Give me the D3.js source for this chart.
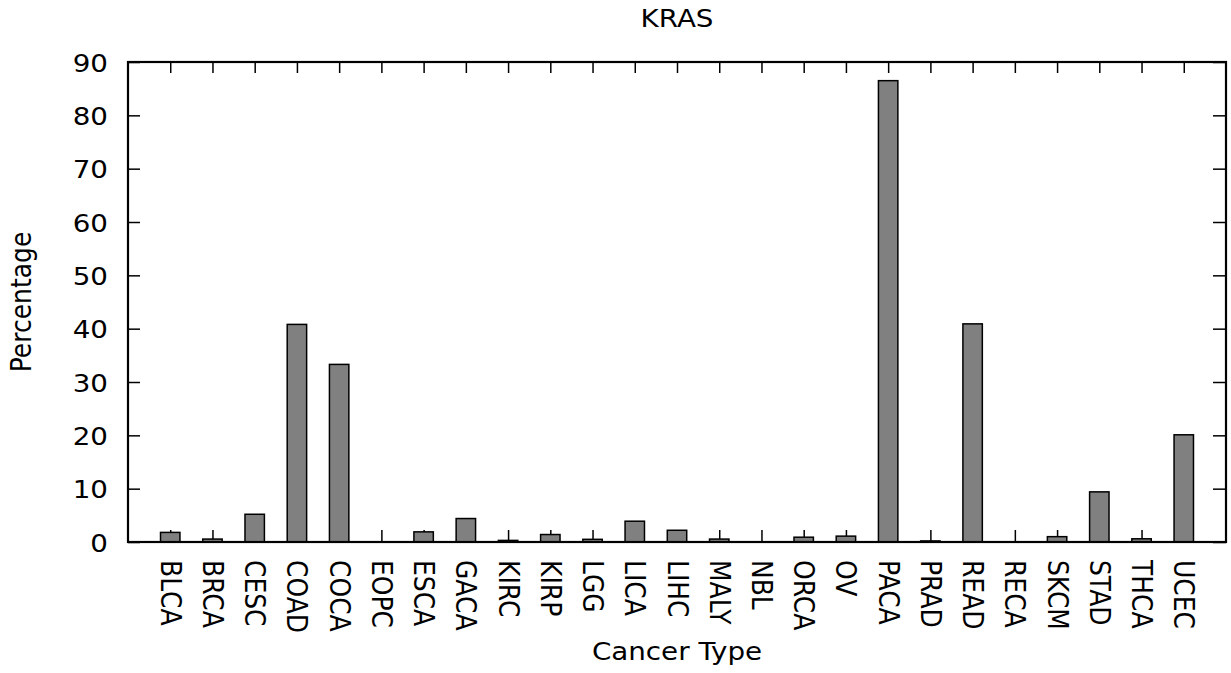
<!DOCTYPE html>
<html>
<head>
<meta charset="utf-8">
<script src="https://cdn.jsdelivr.net/npm/d3@7/dist/d3.min.js"></script>
<style>
  html, body { margin: 0; padding: 0; background: #fff; }
  svg text { font-family: "DejaVu Sans", sans-serif; fill: #000; }
</style>
</head>
<body>
<svg id="chart" width="1231" height="673"></svg>
<script>
const categories = ["BLCA","BRCA","CESC","COAD","COCA","EOPC","ESCA","GACA","KIRC","KIRP","LGG","LICA","LIHC","MALY","NBL","ORCA","OV","PACA","PRAD","READ","RECA","SKCM","STAD","THCA","UCEC"];
const values = [1.8,0.55,5.2,40.8,33.3,0,1.9,4.4,0.3,1.4,0.5,3.9,2.2,0.55,0,0.9,1.1,86.5,0.2,40.9,0,1.0,9.4,0.6,20.1];
const yTicks = [0,10,20,30,40,50,60,70,80,90];
const title = "KRAS";
const xTitle = "Cancer Type";
const yTitle = "Percentage";

const svg = d3.select("#chart");
const L = 128, R = 1226, T = 62, B = 542;
const fs = 25;
const sx = 1.11;

const x = d3.scalePoint().domain(categories).range([L, R]).padding(1);
const y = d3.scaleLinear().domain([0, 90]).range([B, T]);
const bw = x.step() * 0.46;

function styleAxis(g) {
  g.select(".domain").remove();
  g.selectAll(".tick line").attr("stroke", "#000").attr("stroke-width", 1.5);
  g.selectAll("text").style("font-size", fs + "px").style("font-family", '"DejaVu Sans", sans-serif').attr("fill", "#000");
}

// bottom ticks and labels
const gx = svg.append("g").attr("transform", `translate(0,${B})`)
  .call(d3.axisBottom(x).tickSize(-12).tickPadding(0));
styleAxis(gx);
gx.selectAll("text")
  .attr("x", 0).attr("y", 0)
  .attr("transform", `translate(0,18) scale(${sx},1) rotate(90)`)
  .attr("text-anchor", "start")
  .attr("dy", "0.36em");

// top ticks
const gxt = svg.append("g").attr("transform", `translate(0,${T})`)
  .call(d3.axisTop(x).tickSize(-11).tickFormat(""));
styleAxis(gxt);

// left axis
const gy = svg.append("g").attr("transform", `translate(${L},0)`)
  .call(d3.axisLeft(y).tickValues(yTicks).tickSize(-12).tickPadding(20));
styleAxis(gy);
gy.selectAll("text").attr("x", 0).attr("dy", "0.36em")
  .attr("transform", `translate(-20,0) scale(${sx},1)`);

// right ticks
const gyr = svg.append("g").attr("transform", `translate(${R},0)`)
  .call(d3.axisRight(y).tickValues(yTicks).tickSize(-13).tickFormat(""));
styleAxis(gyr);

// bars
svg.append("g").selectAll("rect").data(categories).join("rect")
  .attr("x", (d) => x(d) - bw / 2)
  .attr("y", (d, i) => y(values[i]))
  .attr("width", bw)
  .attr("height", (d, i) => B - y(values[i]))
  .attr("fill", "#808080")
  .attr("stroke", "#000")
  .attr("stroke-width", 1.5);

// frame
svg.append("rect").attr("x", L).attr("y", T).attr("width", R - L).attr("height", B - T)
  .attr("fill", "none").attr("stroke", "#000").attr("stroke-width", 2.2);

// titles
svg.append("text").attr("transform", `translate(${(L + R) / 2},27) scale(${sx},1)`)
  .attr("text-anchor", "middle").style("font-size", fs + "px").text(title);
svg.append("text").attr("transform", `translate(${(L + R) / 2},660) scale(${sx},1)`)
  .attr("text-anchor", "middle").style("font-size", fs + "px").text(xTitle);
svg.append("text").attr("transform", `translate(31,${(T + B) / 2}) scale(${sx},1) rotate(-90)`)
  .attr("text-anchor", "middle").style("font-size", fs + "px").text(yTitle);
</script>
</body>
</html>
